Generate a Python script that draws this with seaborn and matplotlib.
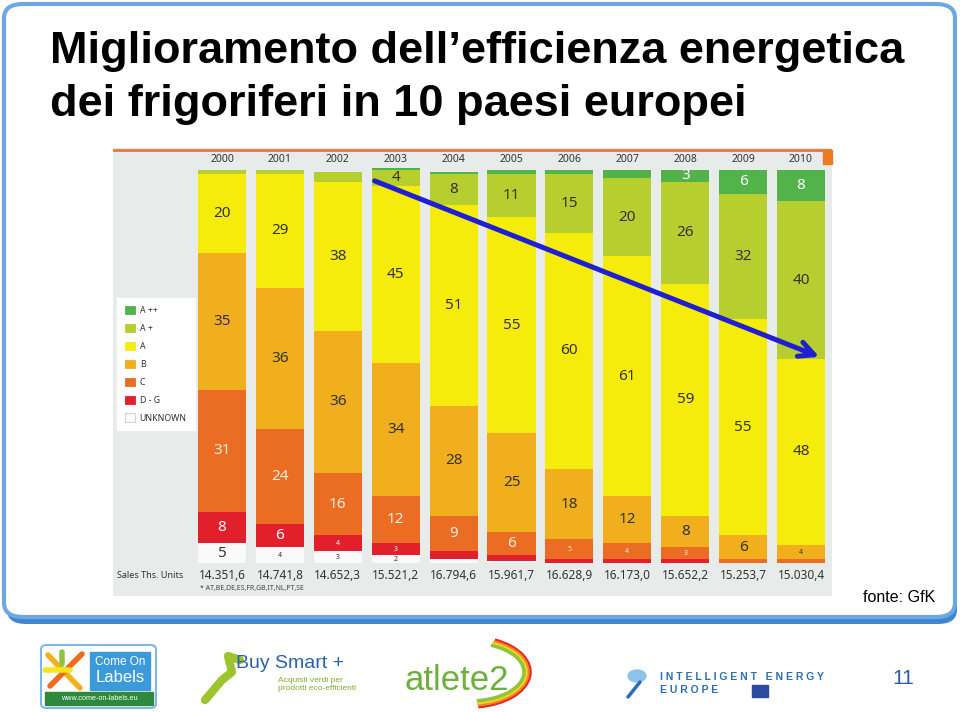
import matplotlib.pyplot as plt
import seaborn as sns
import numpy as np
from matplotlib.patches import FancyBboxPatch, Rectangle, Patch, Arc, Ellipse

# Data: share of refrigerator sales by energy class (%), 10 EU countries
years = [str(y) for y in range(2000, 2011)]
classes = ['A ++', 'A +', 'A', 'B', 'C', 'D - G', 'UNKNOWN']
a_pp = [0, 0, 0, 0.5, 0.5, 1, 1, 2, 3, 6, 8]
a_p = [1, 1, 2.5, 4, 8, 11, 15, 20, 26, 32, 40]
a = [20, 29, 38, 45, 51, 55, 60, 61, 59, 55, 47.5]
b = [35, 36, 36, 34, 28, 25, 18, 12, 8, 6, 3.5]
c = [31, 24, 16, 12, 9, 6, 5, 4, 3, 1, 1]
dg = [8, 6, 4, 3, 2, 1.5, 1, 1, 1, 0, 0]
unknown = [5, 4, 3, 2, 1, 0.5, 0, 0, 0, 0, 0]
sales = [14351.6, 14741.8, 14652.3, 15521.2, 16794.6, 15961.7,
         16628.9, 16173.0, 15652.2, 15253.7, 15030.4]

colors = {'A ++': '#52b34a', 'A +': '#b7cf2e', 'A': '#f6ec0b', 'B': '#f1af1d',
          'C': '#eb6d23', 'D - G': '#e2202b', 'UNKNOWN': '#f9f9f9'}
text_colors = {'A ++': 'white', 'A +': '#333333', 'A': '#333333', 'B': '#333333',
               'C': '#fbeee0', 'D - G': 'white', 'UNKNOWN': '#333333'}

W, H = 960, 712


def fx(x):
    return x / W


def fy(y):
    return 1 - y / H


def it_num(v):
    s = f"{v:,.1f}"
    return s.replace(',', '#').replace('.', ',').replace('#', '.')


sns.set_theme(style='white')
plt.rcParams['font.family'] = ['Noto Sans', 'DejaVu Sans']

fig = plt.figure(figsize=(9.6, 7.12), dpi=100)
fig.patch.set_facecolor('white')

# Slide frame with shadow
shadow = FancyBboxPatch((fx(7), fy(624)), fx(950), (617 - 4) / H,
                        boxstyle='round,pad=0,rounding_size=0.02',
                        transform=fig.transFigure, facecolor='#3f86d0',
                        edgecolor='none', zorder=0)
frame = FancyBboxPatch((fx(4), fy(617)), fx(951), (617 - 4) / H,
                       boxstyle='round,pad=0,rounding_size=0.02',
                       transform=fig.transFigure, facecolor='white',
                       edgecolor='#6ea8e2', linewidth=3, zorder=1)
fig.patches.extend([shadow, frame])

title_kw = dict(family='Liberation Sans', fontsize=32.5, fontweight='bold',
                va='baseline', color='black')
fig.text(fx(50), fy(63), 'Miglioramento dell\u2019efficienza energetica', **title_kw)
fig.text(fx(50), fy(116), 'dei frigoriferi in 10 paesi europei', **title_kw)

# Chart area
ax = fig.add_axes([fx(113), fy(596), (832 - 113) / W, (596 - 148) / H], zorder=2)
ax.set_facecolor('#e7ebea')

stack = [unknown, dg, c, b, a, a_p, a_pp]
stack_names = classes[::-1]
cum = np.cumsum(np.array(stack, dtype=float), axis=0)

# overlay cumulative bars, tallest first
for k in range(len(stack) - 1, -1, -1):
    sns.barplot(x=years, y=cum[k], color=colors[stack_names[k]], saturation=1,
                width=0.83, linewidth=0, ax=ax, zorder=2)

for k, name in enumerate(stack_names):
    for i, v in enumerate(stack[k]):
        if v < 2 or (v < 3 and name != 'UNKNOWN'):
            continue
        small = v < 6 and name not in ('A ++', 'A +') and not (v >= 5 and name == 'UNKNOWN')
        mid = cum[k][i] - v / 2
        ax.text(i, mid, f"{round(v)}", ha='center', va='center',
                fontsize=5 if small else 11, color=text_colors[name], zorder=4)

ax.set_xlim(-1.883, 10.535)
ax.set_ylim(-8.4, 105.6)
ax.set_xlabel('')
ax.set_ylabel('')
ax.set_xticks([])
ax.set_yticks([])
for s in ax.spines.values():
    s.set_visible(False)

ax.axhline(105.1, color='#e8763a', lw=2, zorder=3)
ax.add_patch(Rectangle((10.38, 101.6), 0.16, 3.6, color='#ec7a20', zorder=3, clip_on=False))

for i, yr in enumerate(years):
    ax.text(i, 102.7, yr, ha='center', va='center', fontsize=7.5, color='#333333')
    ax.text(i, -3.3, it_num(sales[i]), ha='center', va='center', fontsize=8.5, color='#333333')
ax.text(-1.82, -3.3, 'Sales Ths. Units', ha='left', va='center', fontsize=6.5,
        fontweight='bold', color='#333333')
ax.text(-0.38, -6.6, '* AT,BE,DE,ES,FR,GB,IT,NL,PT,SE', ha='left', va='center',
        fontsize=5, color='#444444')

handles = [Patch(facecolor=colors[n], edgecolor='#cccccc' if n == 'UNKNOWN' else colors[n],
                 linewidth=0.6) for n in classes]
leg = ax.legend(handles, classes, loc='upper left', bbox_to_anchor=(fx(117), fy(298)),
                bbox_transform=fig.transFigure, frameon=True, fancybox=False,
                facecolor='white', edgecolor='white', framealpha=1, fontsize=6.3,
                handlelength=1.1, handleheight=1.1, labelspacing=1.0,
                borderpad=0.9, handletextpad=0.6, borderaxespad=0)
for t in leg.get_texts():
    t.set_color('#333333')
    t.set_fontweight('bold')

ax.annotate('', xy=(10.36, 52.2), xytext=(2.59, 97.5),
            arrowprops=dict(arrowstyle='->,head_length=0.9,head_width=0.45',
                            color='#1e1ed2', lw=3.6), zorder=5)

fig.text(fx(935), fy(597), 'fonte: GfK', ha='right', va='center', fontsize=11.5,
         family='Liberation Sans', color='black')

# Footer logos (simplified)
fig.patches.append(FancyBboxPatch((fx(41), fy(708)), fx(115), (708 - 645) / H,
                                  boxstyle='round,pad=0,rounding_size=0.006',
                                  transform=fig.transFigure, facecolor='white',
                                  edgecolor='#7fb7e6', linewidth=1.5))
fig.patches.append(Rectangle((fx(90), fy(690)), fx(60), (690 - 652) / H,
                             transform=fig.transFigure, color='#3b9ad9'))
fig.patches.append(Rectangle((fx(45), fy(705)), fx(108), (705 - 692) / H,
                             transform=fig.transFigure, color='#2d8a3c'))
fig.text(fx(120), fy(662), 'Come On', ha='center', va='center', fontsize=8.5,
         color='white', family='Liberation Sans')
fig.text(fx(120), fy(678), 'Labels', ha='center', va='center', fontsize=12,
         color='white', family='Liberation Sans')
fig.text(fx(99), fy(698.5), 'www.come-on-labels.eu', ha='center', va='center',
         fontsize=5.2, color='white', family='Liberation Sans')
for (x0, y0, x1, y1, col) in [(48, 655, 80, 688, '#f2b11a'), (50, 686, 82, 654, '#ee6a22'),
                              (45, 670, 70, 670, '#f6e61a'), (62, 652, 62, 664, '#8cc63f')]:
    fig.add_artist(plt.Line2D([fx(x0), fx(x1)], [fy(y0), fy(y1)], color=col, lw=4,
                              transform=fig.transFigure))

fig.add_artist(plt.Line2D([fx(205), fx(222), fx(232), fx(228), fx(240)],
                          [fy(700), fy(680), fy(672), fy(656), fy(660)],
                          color='#9cc52d', lw=6, solid_capstyle='round',
                          transform=fig.transFigure))
fig.text(fx(236), fy(663), 'Buy Smart +', ha='left', va='center', fontsize=14,
         color='#2a62ab', family='Liberation Sans')
fig.text(fx(278), fy(680), 'Acquisti verdi per', ha='left', va='center', fontsize=6,
         color='#7dae2c', family='Liberation Sans')
fig.text(fx(278), fy(689), 'prodotti eco-efficienti', ha='left', va='center', fontsize=6,
         color='#7dae2c', family='Liberation Sans')

fig.text(fx(404), fy(680), 'atlete2', ha='left', va='center', fontsize=25,
         color='#6bb13c', family='Liberation Sans')
for r, col in [(0, '#e3262b'), (4, '#f08a1e'), (8, '#f6d21a'), (12, '#8cc63f')]:
    fig.add_artist(Arc((fx(470), fy(672)), (120 - r) / W, (70 - r) / H, theta1=-80, theta2=60,
                       color=col, lw=2.5, transform=fig.transFigure))

fig.add_artist(Ellipse((fx(637), fy(676)), 18 / W, 12 / H, color='#8fc4ea',
                       transform=fig.transFigure))
fig.add_artist(plt.Line2D([fx(640), fx(628)], [fy(682), fy(697)], color='#2a6fb5', lw=2.5,
                          transform=fig.transFigure))
fig.text(fx(660), fy(677), 'I N T E L L I G E N T   E N E R G Y', ha='left', va='center',
         fontsize=7.5, fontweight='bold', color='#2a6fb5', family='Liberation Sans')
fig.text(fx(660), fy(690), 'E U R O P E', ha='left', va='center', fontsize=7.5,
         fontweight='bold', color='#2a6fb5', family='Liberation Sans')
fig.patches.append(Rectangle((fx(752), fy(697)), fx(16), 12 / H,
                             transform=fig.transFigure, color='#2b4aa0'))

fig.text(fx(903), fy(679), '11', ha='center', va='center', fontsize=15,
         color='#2a5caa', family='Liberation Sans')

fig.savefig('out.png', dpi=100)
